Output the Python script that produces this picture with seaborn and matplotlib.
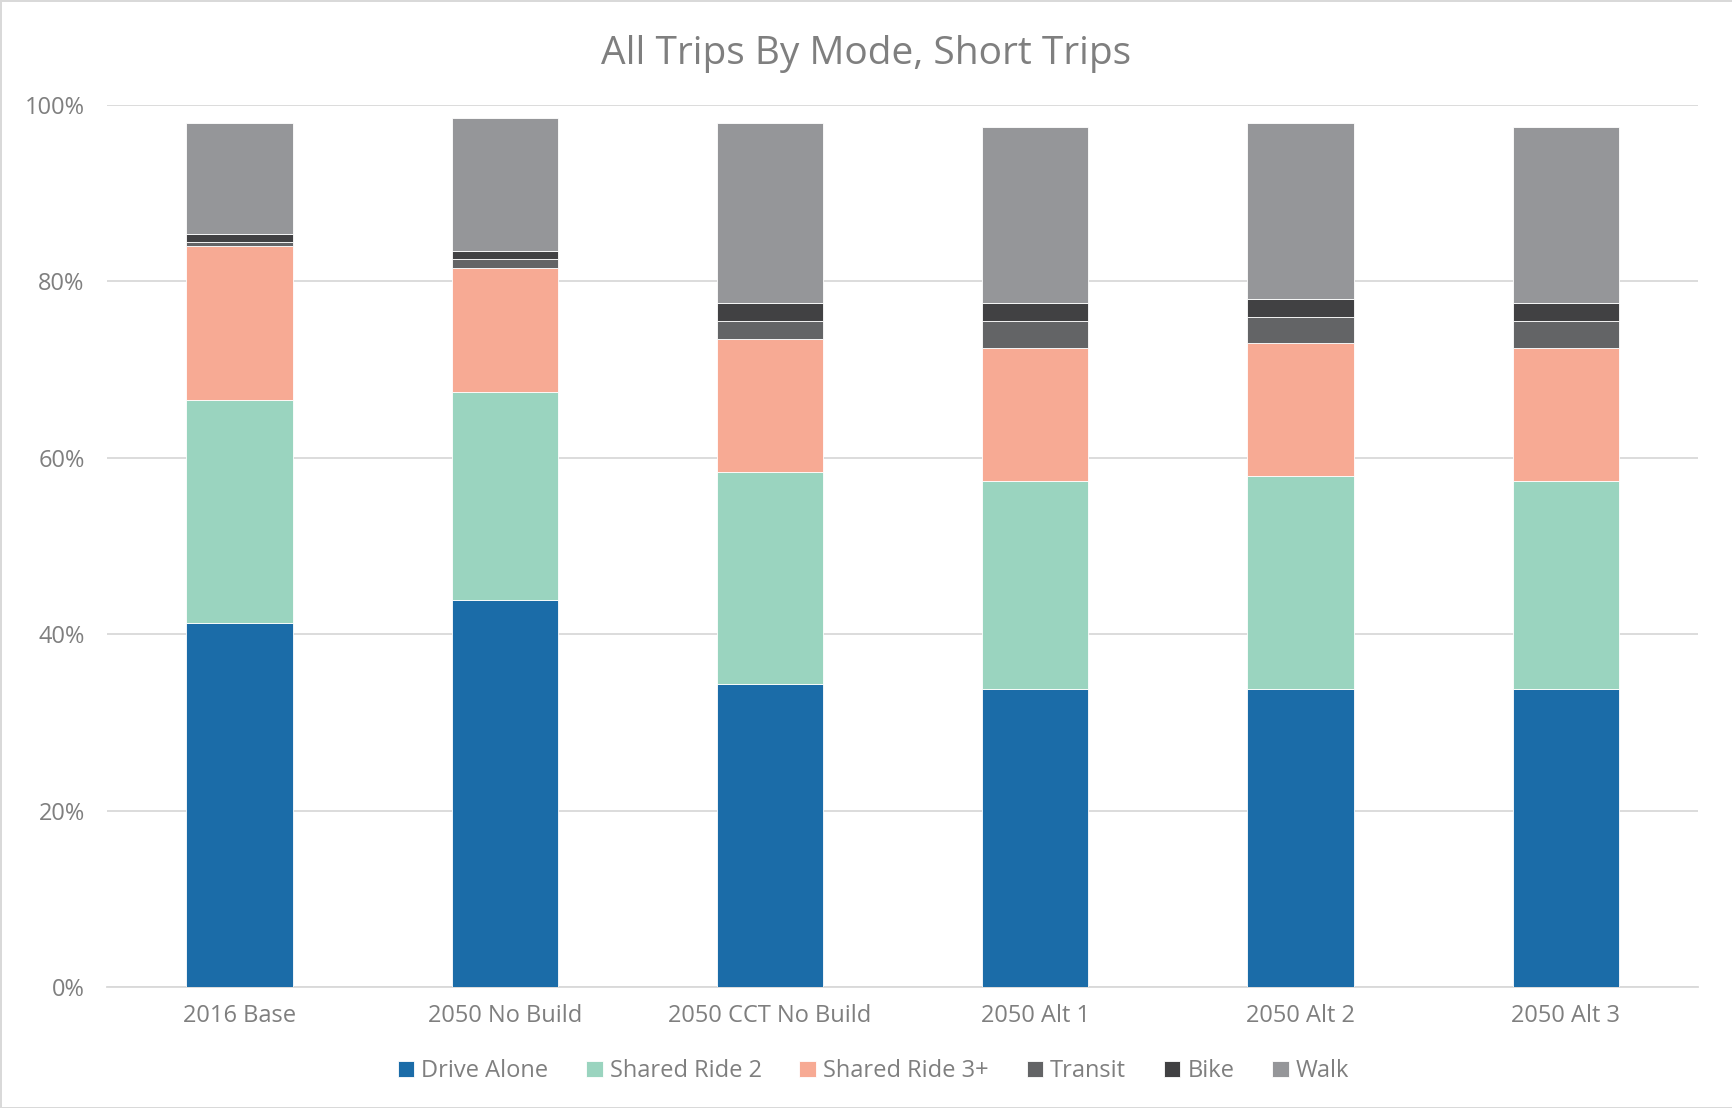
import matplotlib
matplotlib.use("Agg")
import matplotlib.pyplot as plt
import seaborn as sns
import numpy as np
import pandas as pd
from matplotlib.ticker import PercentFormatter

categories = ["2016 Base", "2050 No Build", "2050 CCT No Build", "2050 Alt 1", "2050 Alt 2", "2050 Alt 3"]
drive_alone = [41.3, 43.9, 34.3, 33.8, 33.8, 33.8]
shared_ride_2 = [25.2, 23.6, 24.1, 23.6, 24.1, 23.6]
shared_ride_3 = [17.5, 14.0, 15.1, 15.1, 15.1, 15.1]
transit = [0.5, 1.0, 2.0, 3.0, 3.0, 3.0]
bike = [0.9, 1.0, 2.0, 2.0, 2.0, 2.0]
walk = [12.6, 15.0, 20.5, 20.0, 20.0, 20.0]

series_names = ["Drive Alone", "Shared Ride 2", "Shared Ride 3+", "Transit", "Bike", "Walk"]
series_values = [drive_alone, shared_ride_2, shared_ride_3, transit, bike, walk]
colors = ["#1B6CA8", "#9AD4BF", "#F7AA94", "#636466", "#414143", "#959699"]

sns.set_theme(style="white")
plt.rcParams['font.family'] = ['Open Sans', 'DejaVu Sans']
text_color = "#7F7F7F"

fig = plt.figure(figsize=(17.33, 11.08), dpi=100, edgecolor="#D9D9D9", linewidth=2)
ax = fig.add_axes([0.0617, 0.1092, 0.9183, 0.796])

bottom = np.zeros(len(categories))
for name, vals, col in zip(series_names, series_values, colors):
    v = np.array(vals) / 100.0
    df = pd.DataFrame({"cat": categories, "val": v})
    sns.barplot(data=df, x="cat", y="val", color=col, saturation=1, width=0.4, bottom=bottom,
                edgecolor="white", linewidth=0.6, ax=ax, label=name, zorder=3)
    bottom = bottom + v

ax.set_ylim(0, 1.0)
ax.set_xlim(-0.5, len(categories) - 0.5)
ax.yaxis.set_major_formatter(PercentFormatter(1.0, decimals=0))
ax.set_yticks(np.arange(0, 1.01, 0.2))
ax.grid(axis="y", color="#D9D9D9", linewidth=1.3, zorder=0)
ax.set_axisbelow(True)
for s in ["top", "right", "left"]:
    ax.spines[s].set_visible(False)
ax.spines["bottom"].set_color("#D9D9D9")
ax.spines["bottom"].set_linewidth(1.3)
ax.set_xlabel("")
ax.set_ylabel("")
ax.tick_params(axis="both", length=0, labelsize=17, colors=text_color)
ax.tick_params(axis="y", pad=16)
ax.tick_params(axis="x", pad=12)

fig.suptitle("All Trips By Mode, Short Trips", y=0.968, fontsize=28, color=text_color)

handles, labels = ax.get_legend_handles_labels()
leg = fig.legend(handles, labels, loc="center", bbox_to_anchor=(0.504, 0.033), ncol=6,
                 frameon=False, fontsize=17, handlelength=0.7, handleheight=0.7,
                 handletextpad=0.3, columnspacing=1.6)
for t in leg.get_texts():
    t.set_color(text_color)
if ax.get_legend() is not None:
    ax.get_legend().remove()

fig.savefig("out.png", dpi=100)
